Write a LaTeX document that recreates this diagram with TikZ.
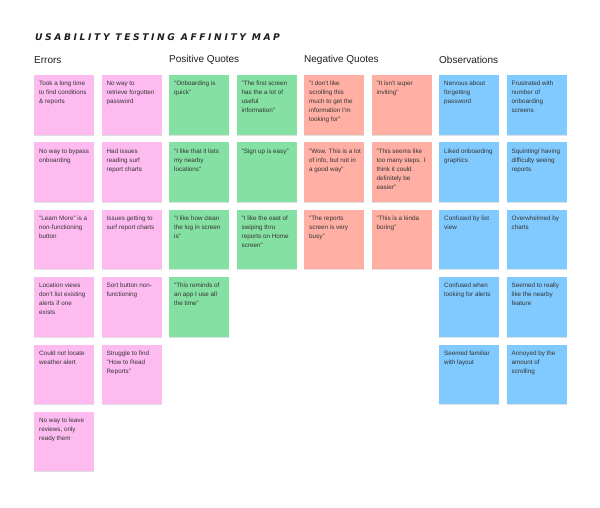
\documentclass[tikz,border=0pt]{standalone}
\usepackage{fontspec}
\setmainfont{Liberation Sans}
\newfontfamily\titlefont[LetterSpace=28]{DejaVu Sans Bold Oblique}
\usetikzlibrary{shadows}
\definecolor{stpink}{HTML}{FEBBF0}
\definecolor{stgreen}{HTML}{85E0A3}
\definecolor{stred}{HTML}{FFAFA3}
\definecolor{stblue}{HTML}{80CAFF}
\definecolor{inkc}{HTML}{1E1E1E}
\definecolor{txtc}{HTML}{333333}
\tikzset{
  stickybox/.style={draw=none, minimum width=60pt, minimum height=59.5pt, inner sep=0pt, anchor=north west,
    drop shadow={shadow xshift=0pt, shadow yshift=-1pt, opacity=0.12, fill=black}},
  stickytext/.style={anchor=north west, inner sep=0pt, align=left, text=txtc,
    font=\fontsize{6.3}{9}\selectfont},
  heading/.style={anchor=west, inner sep=0pt, text=inkc, font=\fontsize{10}{12}\selectfont},
  titlestyle/.style={anchor=west, inner sep=0pt, text=inkc, font=\titlefont\fontsize{9.2}{10}\selectfont}
}
\newcommand\stk[5]{%
  \node[stickybox, fill=#4] (#1) at (#2,#3) {};
  \node[stickytext] (#1-t) at (#2+5,#3+4.4) {\strut #5};
}
\begin{document}
\begin{tikzpicture}[x=1pt,y=-1pt]
\useasboundingbox[fill=white] (0,0) rectangle (600,508);
\node[titlestyle] (title) at (35,37) {USABILITY TESTING AFFINITY MAP};
\node[heading] (hErr) at (34,60) {Errors};
\node[heading] (hPos) at (169,60) {Positive Quotes};
\node[heading] (hNeg) at (304,60) {Negative Quotes};
\node[heading] (hObs) at (439,60) {Observations};
% Errors
\stk{e1}{34}{75}{stpink}{Took a long time\\to find conditions\\\& reports}
\stk{e2}{101.5}{75}{stpink}{No way to\\retrieve forgotten\\password}
\stk{e3}{34}{142.3}{stpink}{No way to bypass\\onboarding}
\stk{e4}{101.5}{142.3}{stpink}{Had issues\\reading surf\\report charts}
\stk{e5}{34}{209.6}{stpink}{"Learn More" is a\\non-functioning\\button}
\stk{e6}{101.5}{209.6}{stpink}{Issues getting to\\surf report charts}
\stk{e7}{34}{277}{stpink}{Location views\\don't list existing\\alerts if one\\exists}
\stk{e8}{101.5}{277}{stpink}{Sort button non-\\functioning}
\stk{e9}{34}{344.3}{stpink}{Could not locate\\weather alert}
\stk{e10}{101.5}{344.3}{stpink}{Struggle to find\\"How to Read\\Reports"}
\stk{e11}{34}{411.6}{stpink}{No way to leave\\reviews, only\\ready them}
% Positive
\stk{p1}{169}{75}{stgreen}{"Onboarding is\\quick"}
\stk{p2}{236.5}{75}{stgreen}{"The first screen\\has the a lot of\\useful\\information"}
\stk{p3}{169}{142.3}{stgreen}{"I like that it lists\\my nearby\\locations"}
\stk{p4}{236.5}{142.3}{stgreen}{"Sign up is easy"}
\stk{p5}{169}{209.6}{stgreen}{"I like how clean\\the log in screen\\is"}
\stk{p6}{236.5}{209.6}{stgreen}{"I like the east of\\swiping thru\\reports on Home\\screen"}
\stk{p7}{169}{277}{stgreen}{"This reminds of\\an app I use all\\the time"}
% Negative
\stk{n1}{304}{75}{stred}{"I don't like\\scrolling this\\much to get the\\information I'm\\looking for"}
\stk{n2}{371.5}{75}{stred}{"It isn't super\\inviting"}
\stk{n3}{304}{142.3}{stred}{"Wow. This is a lot\\of info, but not in\\a good way"}
\stk{n4}{371.5}{142.3}{stred}{"This seems like\\too many steps. I\\think it could\\definitely be\\easier"}
\stk{n5}{304}{209.6}{stred}{"The reports\\screen is very\\busy"}
\stk{n6}{371.5}{209.6}{stred}{"This is a kinda\\boring"}
% Observations
\stk{o1}{439}{75}{stblue}{Nervous about\\forgetting\\password}
\stk{o2}{506.5}{75}{stblue}{Frustrated with\\number of\\onboarding\\screens}
\stk{o3}{439}{142.3}{stblue}{Liked onboarding\\graphics}
\stk{o4}{506.5}{142.3}{stblue}{Squinting/ having\\difficulty seeing\\reports}
\stk{o5}{439}{209.6}{stblue}{Confused by list\\view}
\stk{o6}{506.5}{209.6}{stblue}{Overwhelmed by\\charts}
\stk{o7}{439}{277}{stblue}{Confused when\\looking for alerts}
\stk{o8}{506.5}{277}{stblue}{Seemed to really\\like the nearby\\feature}
\stk{o9}{439}{344.3}{stblue}{Seemed familiar\\with layout}
\stk{o10}{506.5}{344.3}{stblue}{Annoyed by the\\amount of\\scrolling}
\end{tikzpicture}
\end{document}
